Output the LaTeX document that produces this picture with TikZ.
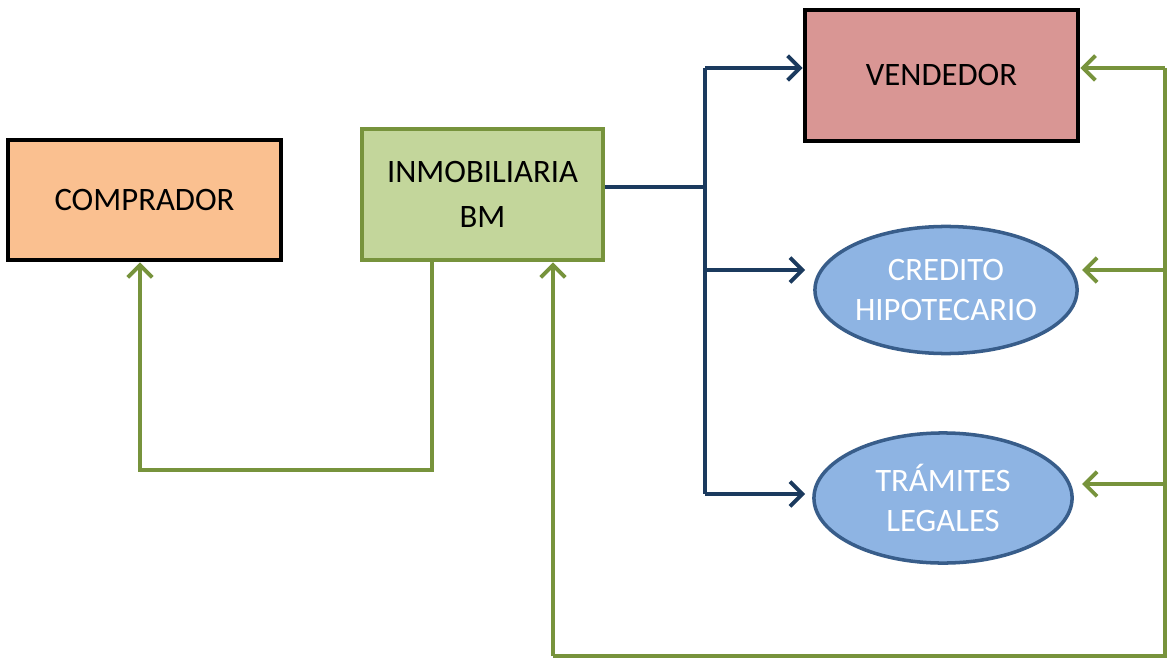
\documentclass[tikz,border=0pt]{standalone}
\usepackage{fontspec}
\setmainfont{Carlito}
\usetikzlibrary{shapes.geometric, arrows.meta}

\definecolor{orangefill}{HTML}{FAC090}
\definecolor{greenfill}{HTML}{C3D69B}
\definecolor{greenline}{HTML}{77933C}
\definecolor{pinkfill}{HTML}{D99694}
\definecolor{bluefill}{HTML}{8EB4E3}
\definecolor{blueline}{HTML}{385D8A}
\definecolor{navyline}{HTML}{1B3A5E}

\tikzset{
  >={Straight Barb[length=3.5pt, width=7pt]},
  entity/.style={draw=black, line width=1.3pt, minimum width=2.73cm, align=center,
    font=\fontsize{9.3}{12.8}\selectfont},
  office/.style={ellipse, draw=blueline, line width=1pt, fill=bluefill, text=white,
    inner sep=0pt, align=center, font=\fontsize{9.3}{11.5}\selectfont},
  outflow/.style={draw=navyline, line width=1.1pt, ->},
  backflow/.style={draw=greenline, line width=1.1pt, ->},
}

\begin{document}
\begin{tikzpicture}[x=0.01cm, y=-0.01cm]
      \useasboundingbox (0, 0) rectangle (1168, 658);

      \node [entity, fill=orangefill, minimum height=1.2cm] (comprador) at (144.5, 200) {COMPRADOR};
      \node [entity, draw=greenline, fill=greenfill, minimum width=2.41cm, minimum height=1.31cm] (inmobiliaria) at (482.5, 194.5) {INMOBILIARIA\\BM};
      \node [entity, fill=pinkfill, minimum height=1.31cm] (vendedor) at (941.5, 75.5) {VENDEDOR};
      \node [office, minimum width=2.62cm, minimum height=1.27cm] (credito) at (946, 290) {CREDITO\\HIPOTECARIO};
      \node [office, minimum width=2.58cm, minimum height=1.3cm] (tramites) at (943, 498) {TRÁMITES\\LEGALES};

      \coordinate (split) at (705, 187);
      \coordinate (splittop) at (705, 68);
      \coordinate (splitmid) at (705, 270);
      \coordinate (splitlow) at (705, 494);
      \coordinate (rettop) at (1165, 68);
      \coordinate (retmid) at (1165, 270);
      \coordinate (retlow) at (1165, 484);
      \coordinate (retend) at (1165, 656);
      \coordinate (retcorner) at (553, 656);
      \coordinate (loopright) at (432, 470);
      \coordinate (loopleft) at (140, 470);

      % inmobiliaria hacia las tres partes
      \draw [navyline, line width=1.1pt] (inmobiliaria.east |- split) -- (split);
      \draw [navyline, line width=1.1pt] (splittop) -- (splitlow);
      \draw [outflow] (splittop) -- (vendedor.west |- splittop);
      \draw [outflow] (splitmid) -- ++(100, 0);
      \draw [outflow] (splitlow) -- ++(100, 0);

      % retorno hacia inmobiliaria
      \draw [greenline, line width=1.1pt] (rettop) -- (retend) -- (retcorner);
      \draw [backflow] (retcorner) -- (inmobiliaria.south -| retcorner);
      \draw [backflow] (rettop) -- (vendedor.east |- rettop);
      \draw [backflow] (retmid) -- ++(-83, 0);
      \draw [backflow] (retlow) -- ++(-83, 0);

      % inmobiliaria hacia comprador
      \draw [backflow] (inmobiliaria.south -| loopright) -- (loopright) -- (loopleft) -- (comprador.south -| loopleft);
    \end{tikzpicture}
\end{document}
